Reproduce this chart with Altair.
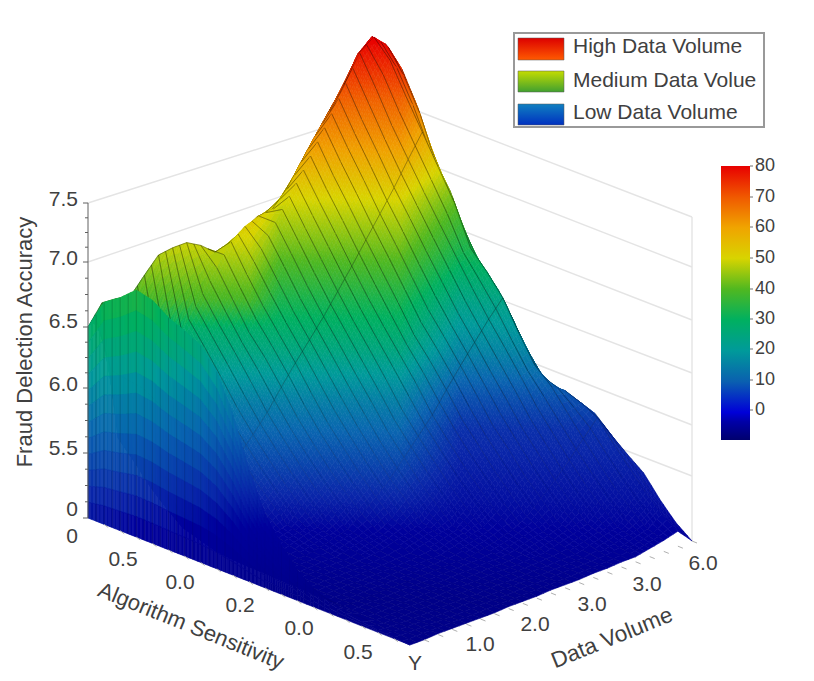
import altair as alt
import numpy as np
import pandas as pd

# surface heights: row = position along the front-left edge, column = along the front-right edge
H = [
[0,0,1,1,1,1,1,2,2,2,3,3,3,4,4,5,5,8,11,15,0],
[1,1,1,1,1,1,2,2,2,3,3,3,4,4,5,5,8,12,16,26,12],
[2,1,1,1,1,2,2,2,3,3,3,4,4,5,5,9,13,17,29,41,29],
[4,1,1,2,2,2,3,3,3,4,4,4,5,6,10,14,19,31,44,59,49],
[6,1,2,2,2,3,3,3,4,4,5,5,7,12,15,21,34,47,62,77,61],
[10,2,2,2,3,3,3,4,4,5,5,8,12,16,24,37,50,65,81,97,74],
[17,2,2,3,3,3,4,4,5,5,9,13,17,27,40,53,69,85,101,105,89],
[30,2,3,3,3,4,4,5,6,10,14,18,30,43,57,73,88,105,121,111,94],
[49,3,3,4,4,4,5,7,11,15,20,33,46,60,76,91,111,129,135,110,100],
[73,3,4,4,5,5,8,12,15,23,36,48,64,79,95,115,133,152,161,127,100],
[111,4,4,5,5,8,12,16,26,38,51,67,83,99,119,138,156,174,190,154,119],
[160,4,5,5,9,13,17,29,41,55,70,86,103,124,141,160,178,198,210,181,147],
[197,5,6,10,14,18,31,44,58,74,90,109,127,146,161,181,203,223,227,200,174],
[217,7,11,15,21,34,47,62,77,93,112,131,150,168,187,207,228,249,266,218,191],
[225,12,16,24,37,50,65,81,97,116,135,154,172,191,212,233,254,275,295,260,210],
[232,17,28,41,54,69,84,101,121,140,158,176,196,216,237,258,279,302,324,286,254],
[243,30,43,57,73,88,105,125,144,162,180,200,221,242,263,285,307,329,353,330,275],
[247,45,61,76,91,110,129,148,163,184,205,226,246,267,288,311,334,360,383,362,324],
[233,64,79,95,115,133,152,170,189,209,230,251,272,293,316,339,364,389,400,385,357],
[222,81,97,117,136,155,174,194,215,236,246,251,253,268,290,311,330,351,377,389,376],
[191,210,209,206,222,237,239,239,231,219,219,231,239,240,253,275,296,316,334,361,375],
]
corner_front = (410, 645)
corner_left = (88, 518)
corner_right = (692, 541)

bar_stops = [-9, -3, 0, 10, 20, 30, 40, 50, 60, 70, 80]
bar_colors = ["#00006e", "#0000a8", "#0000d8", "#0a60b0", "#009a9a", "#00b060", "#50b820", "#d8d400", "#f0a400", "#f05800", "#e80000"]
surf_stops = [-9, -6, 0, 10, 20, 30, 40, 50, 60, 70, 80]
surf_colors = ["#000088", "#00009c", "#0a28aa", "#0a66b0", "#009a9a", "#00b060", "#50b820", "#d8d400", "#f0a000", "#f05000", "#e80000"]
band_y = [40, 100, 150, 200, 250, 300, 350, 400, 450, 500, 530, 600]
band_v = [80, 68, 60, 50, 42, 33, 25, 15, 7, -1, -6, -9]

left_ticks = [(200, "7.5"), (259, "7.0"), (322, "6.5"), (385, "6.0"), (449, "5.5"), (510, "0"), (537, "0")]
left_tick_y = [203, 262, 327, 388, 453, 518]
front_left_labels = [(123, 560, "0.5"), (180, 583, "0.0"), (240, 606, "0.2"), (299, 629, "0.0"), (358, 653, "0.5"), (415, 664, "Y")]
front_right_labels = [(480, 645, "1.0"), (535, 625, "2.0"), (592, 605, "3.0"), (647, 585, "3.0"), (703, 564, "6.0")]
wall_left = [(88, 203, 330, 126), (88, 262, 300, 190)]
wall_right = [(692, 217, 420, 112), (692, 267, 430, 165), (692, 320, 440, 222), (692, 373, 470, 288), (692, 425, 500, 350), (692, 476, 560, 425)]
legend_names = ["High Data Volume", "Medium Data Volue", "Low Data Volume"]
legend_text_y = [47, 81, 113]
legend_swatch_y = [(38, 60), (71, 92), (104, 125)]
legend_grad = [("#dc0000", "#ff5a00"), ("#c4dc00", "#40a030"), ("#1080c0", "#0030c0")]
bar_ticks = [80, 70, 60, 50, 40, 30, 20, 10, 0]
bar_tick_y = [166, 197, 227, 258, 289, 319, 349, 380, 410]

FONT = "Liberation Sans"
TXT = "#404040"
sx = alt.Scale(domain=[8, 806], range=[0, 798], nice=False, zero=False)
sy = alt.Scale(domain=[673, 8], nice=False, zero=False)
X = alt.X("x:Q", scale=sx, axis=None)
Y = alt.Y("y:Q", scale=sy, axis=None)
H_arr = np.array(H, dtype=float)
n_r, n_c = H_arr.shape
fx, fy = corner_front
lx, ly = corner_left
rx, ry = corner_right
rgb_stops = np.array([[int(c[k:k + 2], 16) for k in (1, 3, 5)] for c in surf_colors], dtype=float)


def node(i, j, h):
    a, b = i / (n_r - 1), j / (n_c - 1)
    x = fx + a * (lx - fx) + b * (rx - fx)
    base = fy + a * (ly - fy) + b * (ry - fy)
    return np.array([x, base - h])


def shade(mx, my, hill):
    v = np.interp(my, band_y, band_v)
    v -= 9 * np.clip((mx - 400) / 60, 0, 1) * np.clip((530 - my) / 100, 0, 1)
    if hill:
        v += 6 * np.clip((330 - my) / 30, 0, 1) * np.clip((280 - mx) / 30, 0, 1)
    v = float(max(v, -9))
    c = [int(round(np.interp(v, surf_stops, rgb_stops[:, k]))) for k in range(3)]
    return "#%02x%02x%02x" % tuple(c)


rows = []
cid = 0


def emit(pts, fill, stroke, sw):
    global cid
    for k, (x, y) in enumerate(pts):
        rows.append({"x": round(float(x), 1), "y": round(float(y), 1), "c": cid, "p": k,
                     "f": fill, "s": stroke, "w": sw})
    cid += 1


def shade_quad(p00, p01, p11, p10, hill=True):
    span = max(abs(p00[1] - p11[1]), abs(p01[1] - p10[1]), abs(p00[1] - p10[1]), abs(p00[1] - p01[1]))
    n = int(np.clip(np.ceil(span / 9), 1, 12))
    for u in range(n):
        for w in range(n):
            def q(a, b):
                return (1 - a) * ((1 - b) * p00 + b * p01) + a * ((1 - b) * p10 + b * p11)
            pts = [q(u / n, w / n), q(u / n, (w + 1) / n), q((u + 1) / n, (w + 1) / n), q((u + 1) / n, w / n)]
            m = sum(pts) / 4
            col = shade(m[0], m[1], hill)
            emit(pts, col, col, 0.6)


def mesh(p, r, strength=1.0):
    my = (p[1] + r[1]) / 2
    alpha = float(np.clip((520 - my) / 650, 0.03, 0.27)) * strength
    emit([p, r], "transparent", "rgba(0,0,0,%.3f)" % alpha, 0.8)


for i in range(n_r - 1, 0, -1):
    for j in range(n_c - 1, 0, -1):
        a, b = node(i, j, H_arr[i, j]), node(i, j - 1, H_arr[i, j - 1])
        c, d = node(i - 1, j - 1, H_arr[i - 1, j - 1]), node(i - 1, j, H_arr[i - 1, j])
        shade_quad(a, b, c, d)
        mesh(a, d)
        mesh((a + b) / 2, (c + d) / 2)
        if i % 5 == 0:
            mesh(a, b, 0.8)
    t1, t0 = node(i, 0, H_arr[i, 0]), node(i - 1, 0, H_arr[i - 1, 0])
    b1, b0 = node(i, 0, 0), node(i - 1, 0, 0)
    shade_quad(t1, b1, b0, t0, hill=False)
    mesh(t1, b1, 0.7)
    mesh((t1 + t0) / 2, (b1 + b0) / 2, 0.7)

surface = alt.Chart(pd.DataFrame(rows)).mark_line(
    interpolate="linear-closed", clip=False
).encode(x=X, y=Y, detail="c:N", order="p:Q",
         fill=alt.Fill("f:N", scale=None), stroke=alt.Stroke("s:N", scale=None),
         strokeWidth=alt.StrokeWidth("w:Q", scale=None))


def segs(data, color, width):
    df = pd.DataFrame(data, columns=["x", "y", "x2", "y2"])
    return alt.Chart(df).mark_rule(color=color, strokeWidth=width).encode(x=X, y=Y, x2="x2:Q", y2="y2:Q")


walls = segs(wall_left + wall_right + [(692, 217, 692, 541)], "#e4e4e4", 1.4)

axis_segs = [(88, 203, 88, 518)]
for k, t in enumerate(left_tick_y):
    axis_segs.append((83, t, 88, t))
    if k < len(left_tick_y) - 1:
        for s in (0.25, 0.5, 0.75):
            yy = t + s * (left_tick_y[k + 1] - t)
            axis_segs.append((85, round(yy, 1), 88, round(yy, 1)))
axis_lines = segs(axis_segs, "#606060", 1)

edge = []
for k in range(1, 20):
    t = k / 20
    edge.append((lx + t * (fx - lx), ly + t * (fy - ly), lx + t * (fx - lx) + 4, ly + t * (fy - ly) + 3))
for k in range(1, 21):
    t = k / 20
    edge.append((fx + t * (rx - fx), fy + t * (ry - fy), fx + t * (rx - fx) + 5, fy + t * (ry - fy) + 2))
edge_ticks = segs(edge, "#b0b0b0", 1)


def text(data, size=20, angle=0, align="center"):
    df = pd.DataFrame(data, columns=["x", "y", "t"])
    return alt.Chart(df).mark_text(font=FONT, fontSize=size, angle=angle, align=align, baseline="middle", color=TXT).encode(x=X, y=Y, text="t:N")


labels = alt.layer(
    text([(78, y, t) for y, t in left_ticks], 21, align="right"),
    text(front_left_labels, 21),
    text(front_right_labels, 21),
    text([(25, 342, "Fraud Delection Accuracy")], 22, angle=270),
    text([(191, 626, "Algorithm Sensitivity")], 22, angle=22),
    text([(612, 638, "Data Volume")], 22.5, angle=338),
)

box = alt.Chart(pd.DataFrame([{"x": 514, "y": 33, "x2": 764, "y2": 127}])).mark_rect(
    fill="white", stroke="#999999", strokeWidth=2
).encode(x=X, y=Y, x2="x2:Q", y2="y2:Q")
swatches = []
for (y0, y1), (c0, c1) in zip(legend_swatch_y, legend_grad):
    grad = alt.LinearGradient(gradient="linear", x1=0, x2=0, y1=0, y2=1,
                              stops=[alt.GradientStop(color=c0, offset=0), alt.GradientStop(color=c1, offset=1)])
    swatches.append(alt.Chart(pd.DataFrame([{"x": 518, "y": y0, "x2": 564, "y2": y1}])).mark_rect(
        fill=grad, stroke="#5a5a5a", strokeOpacity=0.5).encode(x=X, y=Y, x2="x2:Q", y2="y2:Q"))
legend_labels = text([(573, y, t) for y, t in zip(legend_text_y, legend_names)], 21, align="left")

bar_grad = alt.LinearGradient(
    gradient="linear", x1=0, x2=0, y1=0, y2=1,
    stops=[alt.GradientStop(color=c, offset=(80 - v) / 89)
           for v, c in sorted(zip(bar_stops, bar_colors), key=lambda t: -t[0])])
colorbar = alt.Chart(pd.DataFrame([{"x": 721, "y": 166, "x2": 750, "y2": 440}])).mark_rect(fill=bar_grad).encode(
    x=X, y=Y, x2="x2:Q", y2="y2:Q")
bar_labels = text([(755, y, str(t)) for y, t in zip(bar_tick_y, bar_ticks)], 18, align="left")
bar_tick_marks = segs([(750, y, 753, y) for y in bar_tick_y], "#707070", 1)

chart = alt.layer(walls, surface, axis_lines, edge_ticks, labels, box, *swatches, legend_labels,
                  colorbar, bar_tick_marks, bar_labels).properties(
    width=798, height=665, padding=0, autosize=alt.AutoSizeParams(type="none"),
    background="white").configure_view(stroke=None)
chart.save("out.html", embed_options={"renderer": "svg", "actions": False})
